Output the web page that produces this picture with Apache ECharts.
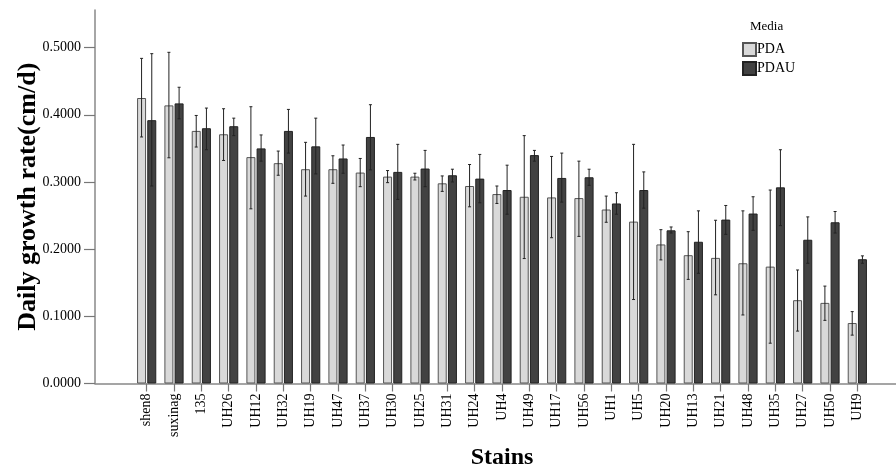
<!DOCTYPE html>
<html>
<head>
<meta charset="utf-8">
<script src="https://cdn.jsdelivr.net/npm/echarts@6/dist/echarts.min.js"></script>
<style>
  html, body { margin: 0; padding: 0; background: #fff; }
  #chart { width: 896px; height: 473px; }
</style>
</head>
<body>
<div id="chart"></div>
<script>
const categories = ['shen8', 'suxinag', '135', 'UH26', 'UH12', 'UH32', 'UH19', 'UH47', 'UH37', 'UH30', 'UH25', 'UH31', 'UH24', 'UH4',
  'UH49', 'UH17', 'UH56', 'UH1', 'UH5', 'UH20', 'UH13', 'UH21', 'UH48', 'UH35', 'UH27', 'UH50', 'UH9']

const pdaMean = [0.425, 0.414, 0.376, 0.371, 0.337, 0.328, 0.319, 0.319, 0.314, 0.308, 0.308, 0.298, 0.294, 0.282,
  0.278, 0.277, 0.276, 0.259, 0.241, 0.207, 0.191, 0.187, 0.179, 0.174, 0.124, 0.120, 0.090]
const pdaLow = [0.367, 0.336, 0.352, 0.332, 0.260, 0.310, 0.279, 0.298, 0.293, 0.299, 0.303, 0.286, 0.263, 0.268,
  0.186, 0.217, 0.219, 0.240, 0.125, 0.184, 0.155, 0.132, 0.102, 0.060, 0.078, 0.094, 0.072]
const pdaHigh = [0.484, 0.493, 0.399, 0.409, 0.412, 0.346, 0.359, 0.339, 0.335, 0.317, 0.313, 0.309, 0.326, 0.294,
  0.369, 0.338, 0.331, 0.279, 0.356, 0.229, 0.226, 0.243, 0.257, 0.288, 0.169, 0.145, 0.107]

const pdauMean = [0.392, 0.417, 0.380, 0.383, 0.350, 0.376, 0.353, 0.335, 0.367, 0.315, 0.320, 0.310, 0.305, 0.288,
  0.340, 0.306, 0.307, 0.268, 0.288, 0.228, 0.211, 0.244, 0.253, 0.292, 0.214, 0.240, 0.185]
const pdauLow = [0.294, 0.394, 0.348, 0.369, 0.331, 0.343, 0.312, 0.313, 0.318, 0.274, 0.293, 0.300, 0.269, 0.252,
  0.331, 0.270, 0.295, 0.252, 0.261, 0.224, 0.164, 0.222, 0.228, 0.235, 0.179, 0.224, 0.179]
const pdauHigh = [0.491, 0.441, 0.410, 0.395, 0.370, 0.408, 0.395, 0.355, 0.415, 0.356, 0.347, 0.319, 0.341, 0.325,
  0.347, 0.343, 0.319, 0.284, 0.315, 0.233, 0.257, 0.265, 0.278, 0.348, 0.248, 0.256, 0.190]

const yTicks = [0, 0.1, 0.2, 0.3, 0.4, 0.5]

const BAR_W = 9
const BAR_GAP = 1.2
const SERIF = '"Liberation Serif", "DejaVu Serif", serif'

function errorBars(low, high) {
  return categories.map(function (c, i) { return [i, low[i], high[i]] })
}

function errorRender(sign) {
  return function (params, api) {
    const idx = api.value(0)
    const top = api.coord([idx, api.value(2)])
    const bottom = api.coord([idx, api.value(1)])
    const x = top[0] + sign * (BAR_W + BAR_GAP) / 2
    const cap = 1.5
    const style = { stroke: '#222', lineWidth: 1 }
    return {
      type: 'group',
      children: [
        { type: 'line', shape: { x1: x, y1: top[1], x2: x, y2: bottom[1] }, style: style },
        { type: 'line', shape: { x1: x - cap, y1: top[1], x2: x + cap, y2: top[1] }, style: style },
        { type: 'line', shape: { x1: x - cap, y1: bottom[1], x2: x + cap, y2: bottom[1] }, style: style }
      ]
    }
  }
}

const chart = echarts.init(document.getElementById('chart'))

chart.setOption({
  backgroundColor: '#fff',
  animation: false,
  textStyle: { fontFamily: SERIF },
  title: {
    text: 'Media',
    left: 745,
    top: 15,
    textStyle: { fontFamily: SERIF, fontSize: 13, fontWeight: 'normal', color: '#000' }
  },
  legend: {
    orient: 'vertical',
    left: 737,
    top: 37,
    itemWidth: 13,
    itemHeight: 13,
    itemGap: 4,
    icon: 'rect',
    data: ['PDA', 'PDAU'],
    textStyle: { fontFamily: SERIF, fontSize: 14, color: '#000', padding: [0, 0, 0, -4] }
  },
  grid: [
    { left: 133, right: 25, top: 10, bottom: 89.5, outerBoundsMode: 'none' },
    { left: 95, right: 0, top: 10, bottom: 89.5, outerBoundsMode: 'none' }
  ],
  xAxis: [
    {
      type: 'category',
      gridIndex: 0,
      data: categories,
      name: 'Stains',
      nameLocation: 'middle',
      nameGap: 62,
      nameMoveOverlap: false,
      nameTextStyle: { fontFamily: SERIF, fontSize: 24, fontWeight: 'bold', color: '#000' },
      axisLine: { show: false },
      axisTick: { show: true, alignWithLabel: true, length: 8, lineStyle: { color: '#777', width: 1.2 } },
      axisLabel: { rotate: 90, interval: 0, fontFamily: SERIF, fontSize: 14, color: '#000', margin: 10 }
    },
    {
      type: 'value',
      gridIndex: 1,
      min: 0,
      max: 1,
      axisLine: { show: true, onZero: false, lineStyle: { color: '#888', width: 1.5 } },
      axisTick: { show: false },
      axisLabel: { show: false },
      splitLine: { show: false }
    }
  ],
  yAxis: [
    {
      type: 'value',
      gridIndex: 0,
      min: 0,
      max: 0.556,
      offset: 38,
      name: 'Daily growth rate(cm/d)',
      nameLocation: 'middle',
      nameGap: 54,
      nameMoveOverlap: false,
      nameTextStyle: { fontFamily: SERIF, fontSize: 26, fontWeight: 'bold', color: '#000' },
      axisLine: { show: true, lineStyle: { color: '#888', width: 1.5 } },
      axisTick: { show: true, length: 11, customValues: yTicks, lineStyle: { color: '#777', width: 1.2 } },
      axisLabel: {
        customValues: yTicks,
        fontFamily: SERIF,
        fontSize: 14,
        color: '#000',
        margin: 14,
        formatter: function (v) { return v.toFixed(4) }
      },
      splitLine: { show: false }
    },
    {
      type: 'value',
      gridIndex: 1,
      show: false,
      min: 0,
      max: 1
    }
  ],
  series: [
    {
      name: 'PDA',
      type: 'bar',
      xAxisIndex: 0,
      yAxisIndex: 0,
      data: pdaMean,
      barWidth: BAR_W,
      barGap: (BAR_GAP / BAR_W * 100) + '%',
      itemStyle: { color: '#d9d9d9', borderColor: '#555', borderWidth: 1 }
    },
    {
      name: 'PDAU',
      type: 'bar',
      xAxisIndex: 0,
      yAxisIndex: 0,
      data: pdauMean,
      barWidth: BAR_W,
      itemStyle: { color: '#424242', borderColor: '#222', borderWidth: 1 }
    },
    {
      type: 'custom',
      xAxisIndex: 0,
      yAxisIndex: 0,
      renderItem: errorRender(-1),
      data: errorBars(pdaLow, pdaHigh),
      z: 10
    },
    {
      type: 'custom',
      xAxisIndex: 0,
      yAxisIndex: 0,
      renderItem: errorRender(1),
      data: errorBars(pdauLow, pdauHigh),
      z: 10
    }
  ]
})
</script>
</body>
</html>
